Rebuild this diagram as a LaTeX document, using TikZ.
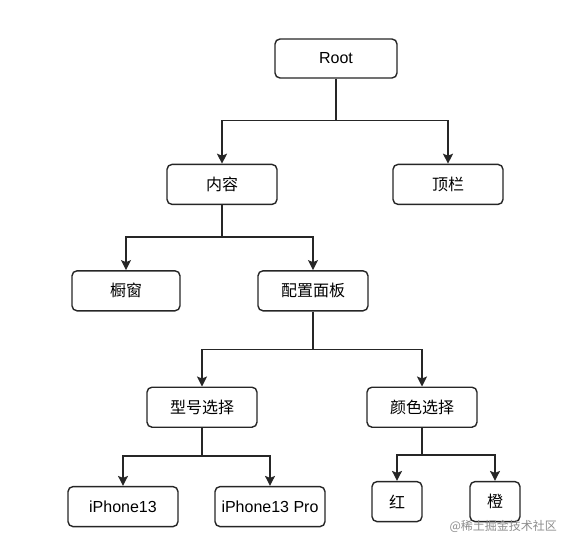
\documentclass[tikz,border=0pt]{standalone}
\usepackage{fontspec}
\setmainfont{Liberation Sans}
\newfontfamily\cjk{Noto Sans CJK SC}
\usetikzlibrary{
    arrows.meta,
    positioning
}
\tikzstyle{box} = [
    rectangle,
    rounded corners=5pt,
    draw=black!85,
    line width=1.4pt,
    fill=white,
    minimum width=110pt,
    minimum height=40pt,
    inner sep=2pt,
    font=\fontsize{16}{18}\selectfont
]
\tikzstyle{leaf} = [
    box,
    minimum width=50pt
]
\tikzstyle{arrow} = [
    -{Stealth[width=10pt,length=10pt,inset=2pt]},
    line width=1.4pt,
    draw=black!85
]

\begin{document}
\begin{tikzpicture}[x=1pt, y=-1pt]
    \useasboundingbox (0,0) rectangle (568,547);

    % Top level
    \node[box, minimum width=122pt, minimum height=39pt] (root) at (336,58.5) {Root};

    % Second level
    \node[box, below=85pt of root, xshift=-114pt] (content) {\cjk 内容};
    \node[box, below=85pt of root, xshift=112pt] (topbar) {\cjk 顶栏};

    % Third level
    \node[box, minimum width=108pt, below=65pt of content, xshift=-96pt] (window) {\cjk 橱窗};
    \node[box, below=65pt of content, xshift=91pt] (config) {\cjk 配置面板};

    % Fourth level
    \node[box, below=75pt of config, xshift=-111pt] (model) {\cjk 型号选择};
    \node[box, below=75pt of config, xshift=109pt] (colour) {\cjk 颜色选择};

    % Leaves
    \node[box, below=58pt of model, xshift=-79pt] (phone) {iPhone13};
    \node[box, below=58pt of model, xshift=68pt] (phonepro) {iPhone13 Pro};
    \node[leaf, below=53pt of colour, xshift=-25pt] (red) {\cjk 红};
    \node[leaf, below=53pt of colour, xshift=73pt] (orange) {\cjk 橙};

    % Arrows
    \draw[arrow] (root.south) -- ++(0,42) -| (content.north);
    \draw[arrow] (root.south) -- ++(0,42) -| (topbar.north);
    \draw[arrow] (content.south) -- ++(0,32) -| (window.north);
    \draw[arrow] (content.south) -- ++(0,32) -| (config.north);
    \draw[arrow] (config.south) -- ++(0,38) -| (model.north);
    \draw[arrow] (config.south) -- ++(0,38) -| (colour.north);
    \draw[arrow] (model.south) -- ++(0,28) -| (phone.north);
    \draw[arrow] (model.south) -- ++(0,28) -| (phonepro.north);
    \draw[arrow] (colour.south) -- ++(0,27) -| (red.north);
    \draw[arrow] (colour.south) -- ++(0,27) -| (orange.north);

    % Watermark
    \node[text=black!45, font=\cjk\fontsize{12}{14}\selectfont, anchor=west] (mark) at (446,526) {@稀土掘金技术社区};
\end{tikzpicture}
\end{document}
